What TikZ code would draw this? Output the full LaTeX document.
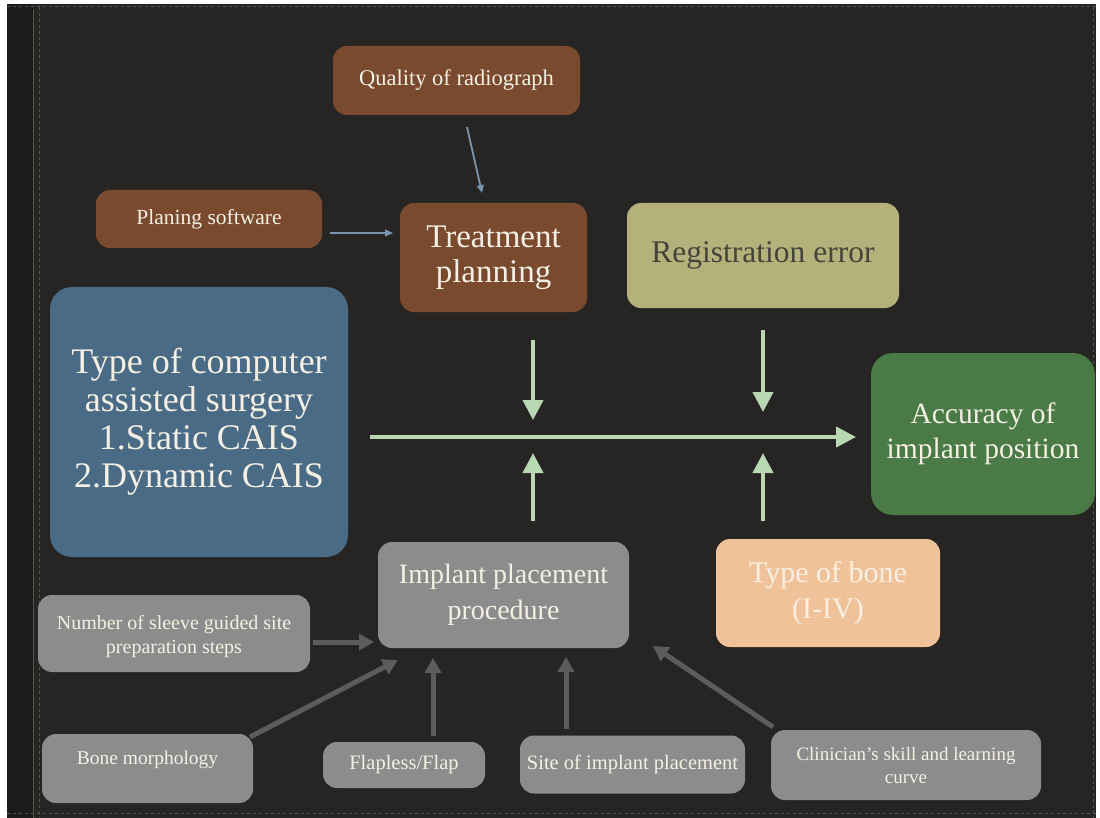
\documentclass[tikz,border=0pt]{standalone}
\usepackage{fontspec}
\setmainfont{Liberation Serif}
\usetikzlibrary{arrows.meta}
\definecolor{bgdark}{HTML}{262523}
\definecolor{bgedge}{HTML}{1C1B19}
\definecolor{stitch}{HTML}{55544F}
\definecolor{brownbox}{HTML}{7A4A2E}
\definecolor{bluebox}{HTML}{4A6B86}
\definecolor{olivebox}{HTML}{B4B27A}
\definecolor{greenbox}{HTML}{4A7A45}
\definecolor{peachbox}{HTML}{F0C29A}
\definecolor{graybox}{HTML}{8C8C8C}
\definecolor{cream}{HTML}{F4F0E4}
\definecolor{darktext}{HTML}{45443A}
\definecolor{peachtext}{HTML}{FBEFE2}
\definecolor{greenarrow}{HTML}{B9D7B2}
\definecolor{grayarrow}{HTML}{5C5C5C}
\definecolor{bluearrow}{HTML}{7894AE}
\tikzset{
  box/.style={rounded corners=14pt, align=center, inner sep=0pt, text=cream, font=\fontsize{17}{21}\selectfont},
  bigbox/.style={box, rounded corners=22pt},
  brownfill/.style={fill=brownbox},
  grayfill/.style={fill=graybox},
  garrow/.style={draw=greenarrow, line width=4pt, -{Triangle[width=20pt,length=20pt]}},
  grarrow/.style={draw=grayarrow, line width=5pt, -{Triangle[width=16pt,length=15pt]}},
  barrow/.style={draw=bluearrow, line width=1.8pt, -{Triangle[width=7pt,length=8pt]}},
}
\begin{document}
\begin{tikzpicture}[x=1pt,y=-1pt]
\useasboundingbox (0,0) rectangle (1100,818);
% background
\fill[white] (0,0) rectangle (1100,818);
\fill[bgdark] (7,4) rectangle (1096,818);
\fill[bgedge] (7,4) rectangle (33,818);
\draw[stitch, line width=0.8pt] (33,10) -- (33,818);
\draw[stitch, line width=1pt, dashed] (39,7) -- (39,818);
\draw[stitch, line width=1pt, dashed] (7,7) -- (1096,7);
\draw[stitch, line width=1pt, dashed] (1093,7) -- (1093,818);
\draw[stitch, line width=1pt, dashed] (7,813) -- (1096,813);

% brown boxes
\node[box, brownfill, minimum width=247pt, minimum height=69pt, font=\fontsize{22.5}{26}\selectfont] (qual) at (456.5,80.5) {Quality of radiograph};
\node[box, brownfill, minimum width=226pt, minimum height=58pt, font=\fontsize{21.5}{26}\selectfont] (soft) at (209,219) {Planing software};
\node[box, brownfill, minimum width=187pt, minimum height=109pt, font=\fontsize{33}{35}\selectfont] (treat) at (493.5,257.5) {Treatment\\planning};
% olive
\node[box, fill=olivebox, text=darktext, minimum width=272pt, minimum height=105pt, font=\fontsize{31.5}{35}\selectfont] (reg) at (763,255.5) {Registration error};
% blue
\node[bigbox, fill=bluebox, minimum width=298pt, minimum height=270pt, font=\fontsize{36}{38}\selectfont] (cas) at (199,422) {Type of computer\\assisted surgery\\1.Static CAIS\\2.Dynamic CAIS};
% green
\node[bigbox, fill=greenbox, minimum width=224pt, minimum height=162pt, font=\fontsize{29.5}{35}\selectfont] (acc) at (983,434) {Accuracy of\\implant position};
% implant placement
\node[box, grayfill, minimum width=251pt, minimum height=106pt, font=\fontsize{28}{36}\selectfont] (ipp) at (503.5,595) {Implant placement\\procedure};
% type of bone
\node[box, fill=peachbox, text=peachtext, minimum width=224pt, minimum height=108pt, font=\fontsize{30}{36}\selectfont] (bone) at (828,593) {Type of bone\\(I-IV)};
% small gray boxes
\node[box, grayfill, minimum width=272pt, minimum height=77pt, font=\fontsize{20}{24}\selectfont] (sleeve) at (174,633.5) {\raisebox{-3pt}[\height][\depth]{Number of sleeve guided site}\\\raisebox{-3pt}[\height][\depth]{preparation steps}};
\node[box, grayfill, minimum width=211pt, minimum height=69pt, font=\fontsize{19.5}{22}\selectfont] (morph) at (147.5,768.5) {\raisebox{9pt}[\height][\depth]{Bone morphology}};
\node[box, grayfill, minimum width=162pt, minimum height=46pt, font=\fontsize{20.5}{22}\selectfont] (flap) at (404,765) {Flapless/Flap};
\node[box, grayfill, minimum width=225pt, minimum height=58pt, font=\fontsize{20.5}{22}\selectfont] (site) at (632.5,764.5) {Site of implant placement};
\node[box, grayfill, minimum width=270pt, minimum height=70pt, font=\fontsize{19}{23}\selectfont] (clin) at (906,765) {Clinician's skill and learning\\curve};

% blue arrows
\coordinate (qs) at (467,127);
\coordinate (qe) at (482,193);
\draw[barrow] (qs) -- (qe);
\coordinate (ss) at (330,233);
\coordinate (se) at (393,233);
\draw[barrow] (ss) -- (se);

% green arrows
\coordinate (hs) at (370,437);
\coordinate (he) at (856,437);
\draw[garrow] (hs) -- (he);
\coordinate (d1s) at (533,340);
\coordinate (d1e) at (533,420);
\draw[garrow] (d1s) -- (d1e);
\coordinate (d2s) at (763,330);
\coordinate (d2e) at (763,412);
\draw[garrow] (d2s) -- (d2e);
\coordinate (u1s) at (533,521);
\coordinate (u1e) at (533,453);
\draw[garrow] (u1s) -- (u1e);
\coordinate (u2s) at (763,521);
\coordinate (u2e) at (763,453);
\draw[garrow] (u2s) -- (u2e);

% gray arrows
\coordinate (g1s) at (313,642);
\coordinate (g1e) at (374,642);
\draw[grarrow] (g1s) -- (g1e);
\coordinate (g2s) at (250,737);
\coordinate (g2e) at (398,660);
\draw[grarrow] (g2s) -- (g2e);
\coordinate (g3s) at (433,736);
\coordinate (g3e) at (433,658);
\draw[grarrow] (g3s) -- (g3e);
\coordinate (g4s) at (566,729);
\coordinate (g4e) at (566,657);
\draw[grarrow] (g4s) -- (g4e);
\coordinate (g5s) at (773,727);
\coordinate (g5e) at (653,646);
\draw[grarrow] (g5s) -- (g5e);
\end{tikzpicture}
\end{document}
